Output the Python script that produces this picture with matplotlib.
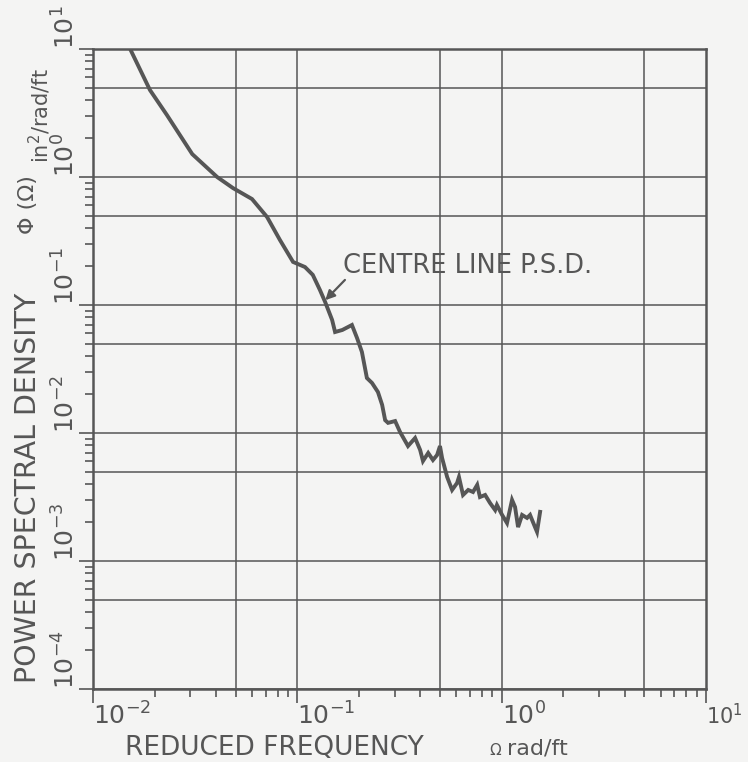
import numpy as np
import matplotlib.pyplot as plt
from matplotlib.ticker import LogLocator, NullFormatter


# =========================
# DATOS
# =========================

# frecuencia reducida (rad/ft)
omega = [0.0148, 0.0152, 0.0190, 0.0230, 0.0306, 0.0405, 0.0484, 0.0600,
         0.0711, 0.0822, 0.0953, 0.109, 0.119, 0.129, 0.137, 0.148, 0.153,
         0.166, 0.185, 0.196, 0.207, 0.219, 0.232, 0.248, 0.260, 0.269,
         0.278, 0.301, 0.318, 0.348, 0.377, 0.399, 0.412, 0.437, 0.461,
         0.483, 0.499, 0.511, 0.541, 0.572, 0.605, 0.618, 0.647, 0.686,
         0.724, 0.759, 0.783, 0.830, 0.877, 0.929, 0.948, 1.005, 1.062,
         1.124, 1.163, 1.203, 1.259, 1.331, 1.377, 1.456, 1.489, 1.542]

# densidad espectral de potencia (in^2/rad/ft)
psd = [10.7, 10.0, 4.78, 3.05, 1.51, 1.00, 0.820, 0.673,
       0.487, 0.322, 0.217, 0.198, 0.172, 0.131, 0.105, 0.0764, 0.0615,
       0.0638, 0.0698, 0.0552, 0.0430, 0.0269, 0.0246, 0.0209, 0.0166, 0.0126,
       0.0120, 0.0124, 0.0102, 0.00791, 0.00914, 0.00737, 0.00604, 0.00698, 0.00615,
       0.00673, 0.00791, 0.00638, 0.00453, 0.00359, 0.00407, 0.00453, 0.00328, 0.00359,
       0.00346, 0.00393, 0.00316, 0.00328, 0.00284, 0.00250, 0.00274, 0.00229, 0.00198,
       0.00300, 0.00264, 0.00184, 0.00229, 0.00217, 0.00229, 0.00184, 0.00169, 0.00242]

ticks_x = [1e-2, 1e-1, 1e0, 1e1]
etiquetas_x = [r"$\mathregular{10^{-2}}$", r"$\mathregular{10^{-1}}$",
               r"$\mathregular{10^{0}}$", r"$\mathregular{10^{1}}$"]

ticks_y = [1e-4, 1e-3, 1e-2, 1e-1, 1e0, 1e1]
etiquetas_y = [r"$\mathregular{10^{-4}}$", r"$\mathregular{10^{-3}}$",
               r"$\mathregular{10^{-2}}$", r"$\mathregular{10^{-1}}$",
               r"$\mathregular{10^{0}}$", r"$\mathregular{10^{1}}$"]

# punto de la curva señalado por la flecha y origen de la flecha
punto_flecha = (0.137, 0.109)
origen_flecha = (0.171, 0.157)
pos_texto = (0.1675, 0.2018)

TINTA = "#565656"
FONDO = "#f4f4f3"
W, H = 748, 762


def px(x, y):
    # pixeles de la imagen -> fracción de figura
    return x / W, 1 - y / H


# =========================
# FIGURA
# =========================

fig = plt.figure(figsize=(W / 100, H / 100), dpi=100, facecolor=FONDO)
ax = fig.add_axes([93 / W, 1 - 689 / H, (706 - 93) / W, (689 - 49) / H])
ax.set_facecolor(FONDO)

ax.set_xscale("log")
ax.set_yscale("log")
ax.set_xlim(1e-2, 1e1)
ax.set_ylim(1e-4, 1e1)

# rejilla en 1 y 5 de cada década
for d in ticks_x[:-1]:
    ax.axvline(d, color=TINTA, lw=1.1, zorder=1)
    ax.axvline(5 * d, color=TINTA, lw=1.1, zorder=1)
for d in ticks_y[:-1]:
    ax.axhline(d, color=TINTA, lw=1.1, zorder=1)
    ax.axhline(5 * d, color=TINTA, lw=1.1, zorder=1)

ax.plot(omega, psd, color=TINTA, lw=2.8, solid_joinstyle="miter", zorder=3)

for s in ax.spines.values():
    s.set_color(TINTA)
    s.set_linewidth(1.8)

ax.set_xticks(ticks_x, etiquetas_x, ha="left")
ax.set_yticks(ticks_y, etiquetas_y, rotation=90, va="bottom")
ax.xaxis.set_minor_locator(LogLocator(base=10, subs=np.arange(2, 10), numticks=20))
ax.yaxis.set_minor_locator(LogLocator(base=10, subs=np.arange(2, 10), numticks=20))
ax.xaxis.set_minor_formatter(NullFormatter())
ax.yaxis.set_minor_formatter(NullFormatter())

ax.tick_params(which="both", direction="out", color=TINTA, width=1.2,
               top=False, right=False, labelcolor=TINTA, labelsize=18)
ax.tick_params(which="major", length=10, pad=0)
ax.tick_params(which="minor", length=6)

# la última etiqueta del eje x queda pegada al borde: un poco más pequeña
ax.get_xticklabels()[-1].set_fontsize(15)

# =========================
# TEXTOS
# =========================

fig.text(*px(125, 755), "REDUCED FREQUENCY", fontsize=19, color=TINTA,
         ha="left", va="baseline")
fig.text(*px(489, 755), "Ω", fontsize=11, color=TINTA, ha="left", va="baseline")
fig.text(*px(507, 755), "rad/ft", fontsize=16, color=TINTA, ha="left", va="baseline")

fig.text(*px(28, 683), "POWER SPECTRAL DENSITY", fontsize=20.5, color=TINTA,
         rotation=90, ha="center", va="bottom")
fig.text(*px(28, 234), "Φ (Ω)", fontsize=16, color=TINTA,
         rotation=90, ha="center", va="bottom")
fig.text(*px(40, 163), r"in$^2$/rad/ft", fontsize=15, color=TINTA,
         rotation=90, ha="center", va="bottom")

# anotación
ax.annotate("", xy=punto_flecha, xytext=origen_flecha,
            arrowprops=dict(arrowstyle="-|>", color=TINTA, lw=1.6,
                            mutation_scale=14, shrinkA=0, shrinkB=0))
ax.text(*pos_texto, "CENTRE LINE P.S.D.", fontsize=18.5, color=TINTA,
        ha="left", va="center", zorder=4)

plt.savefig("out.png", dpi=100, facecolor=FONDO)
